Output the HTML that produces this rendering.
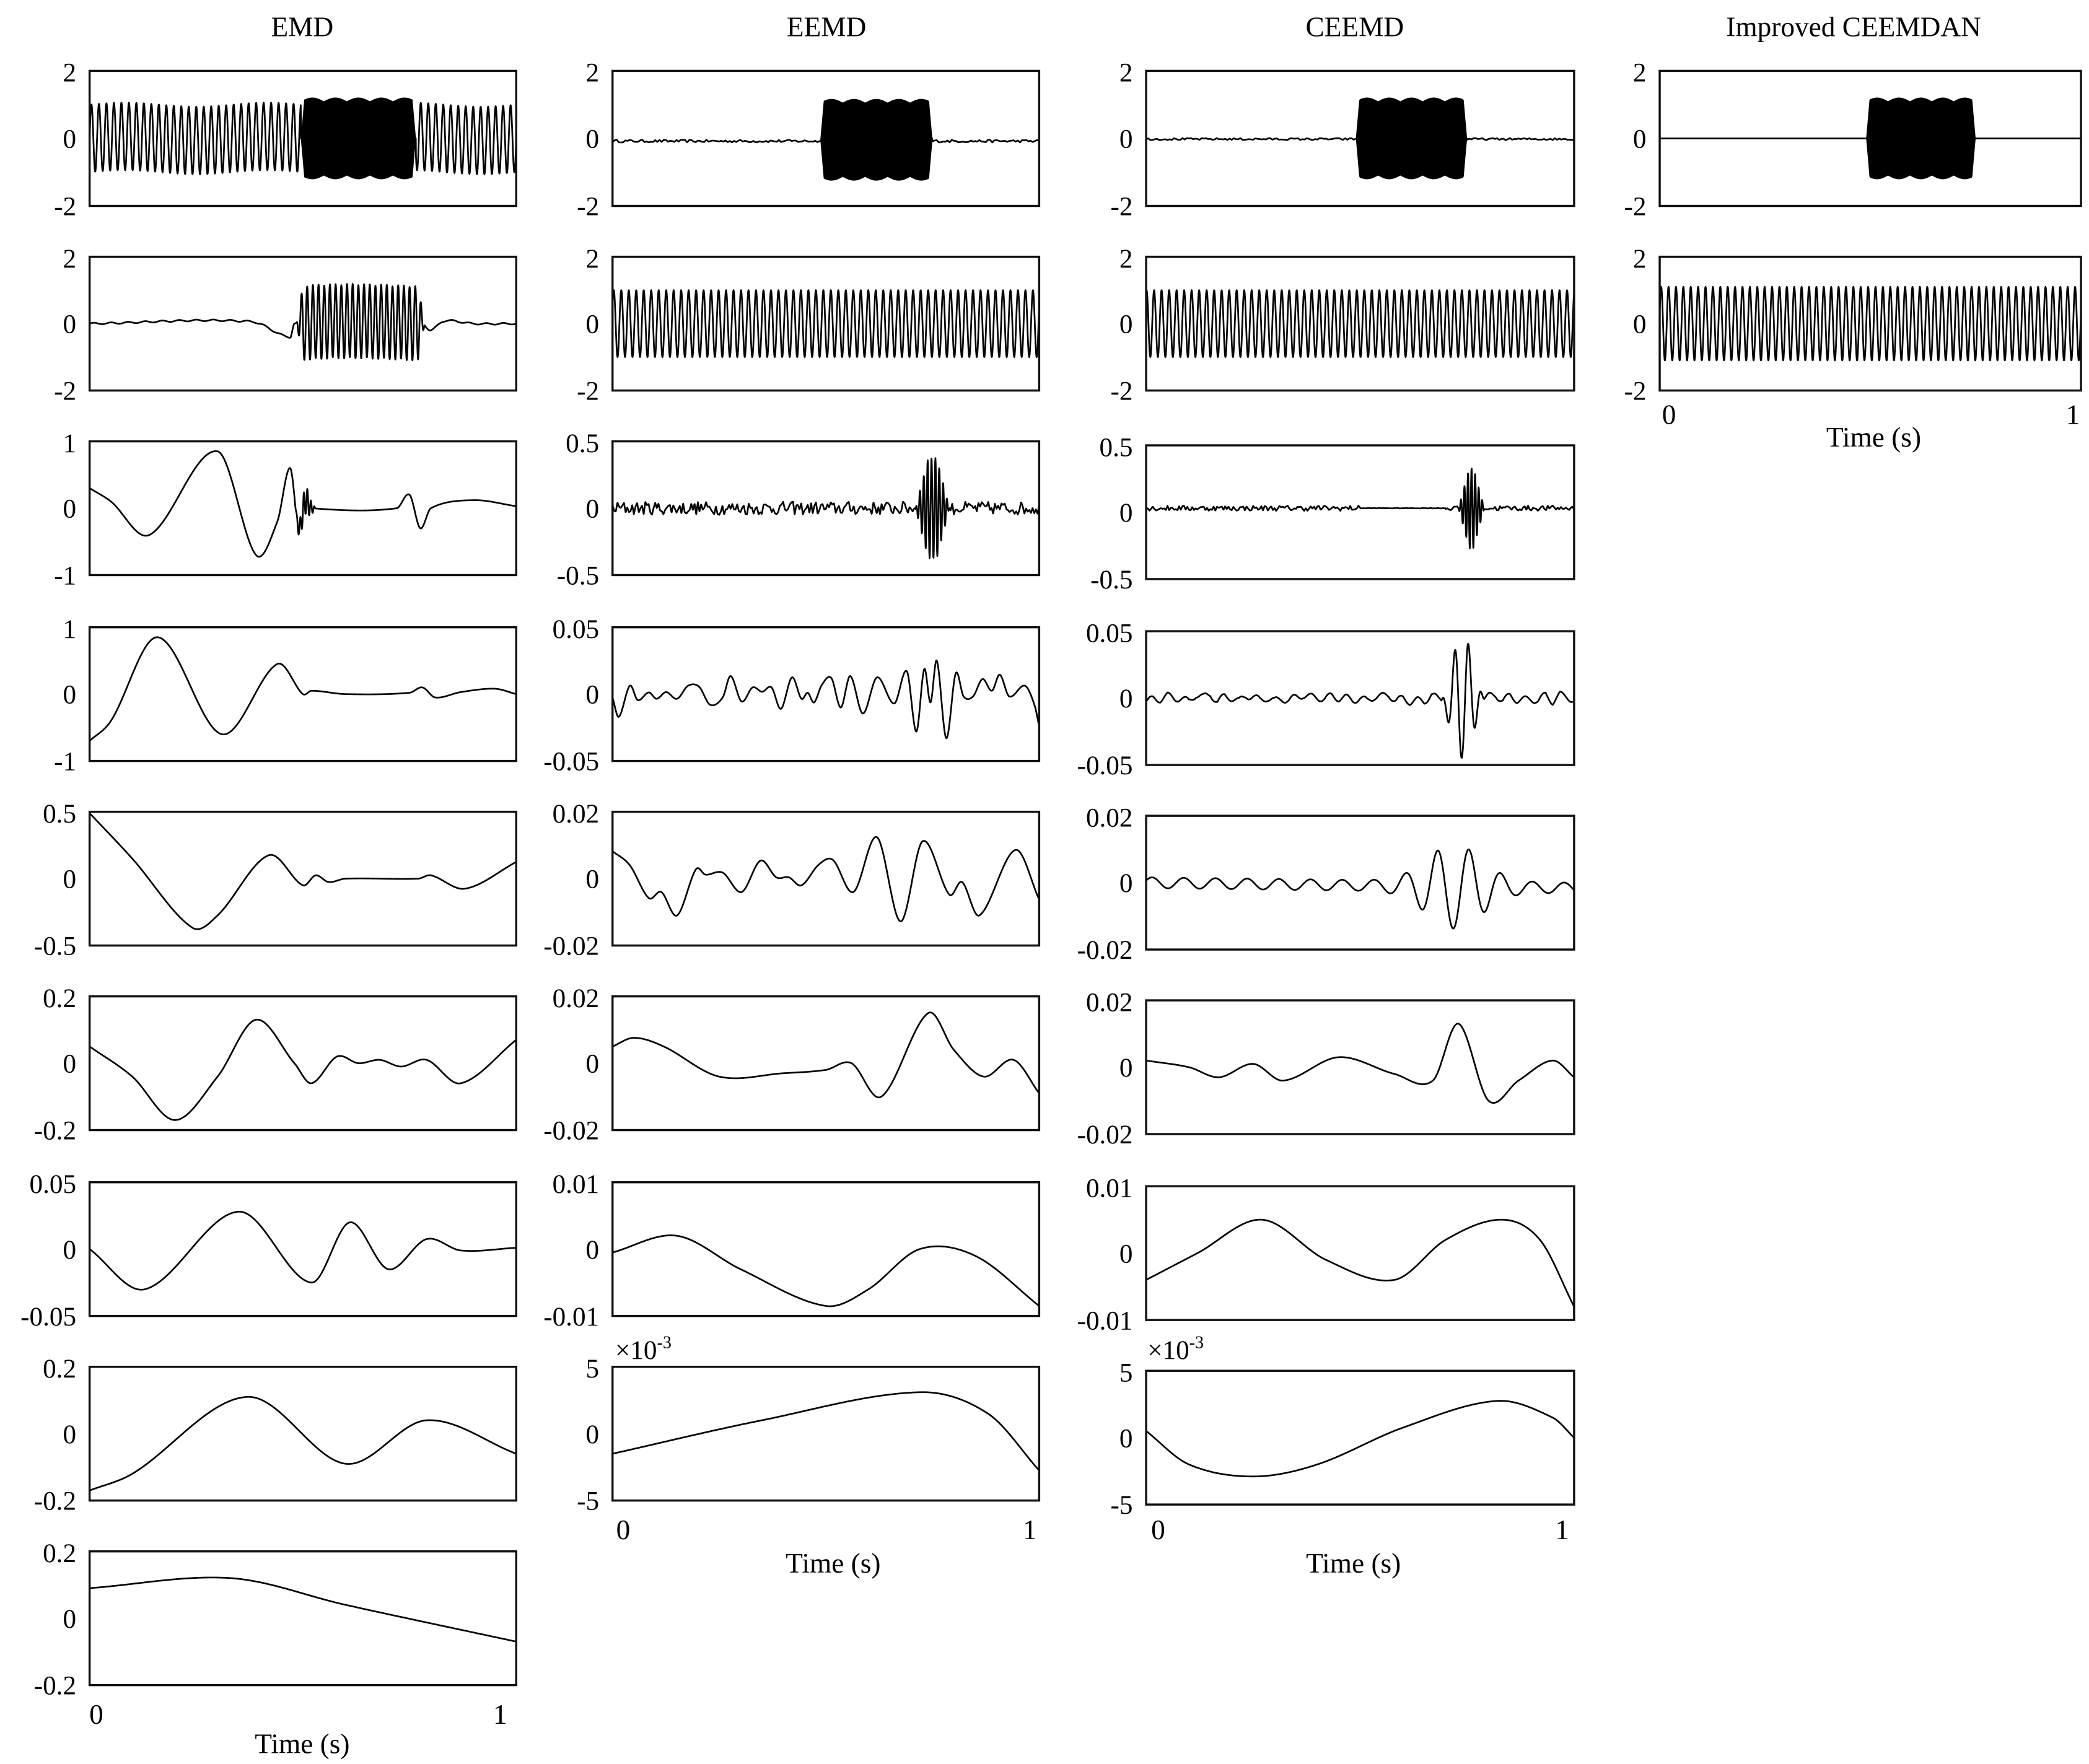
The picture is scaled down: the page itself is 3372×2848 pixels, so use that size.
<!DOCTYPE html>
<html><head><meta charset="utf-8">
<style>
html,body{margin:0;padding:0;background:#fff;}
svg{display:block;}
text{font-family:"Liberation Serif","DejaVu Serif",serif;fill:#000;}
</style></head>
<body>
<svg id="s" xmlns="http://www.w3.org/2000/svg" width="3372" height="2848" viewBox="0 0 1562 1319" preserveAspectRatio="none">
<rect width="1562" height="1319" fill="#fff"/>
<g font-size="21" text-anchor="middle">
<text x="226" y="27">EMD</text>
<text x="618" y="27">EEMD</text>
<text x="1013" y="27">CEEMD</text>
<text x="1386" y="27">Improved CEEMDAN</text>
<text x="72" y="1289">0</text><text x="374" y="1289">1</text><text x="226" y="1311">Time (s)</text>
<text x="466" y="1151">0</text><text x="770" y="1151">1</text><text x="623" y="1176">Time (s)</text>
<text x="866" y="1151">0</text><text x="1168" y="1151">1</text><text x="1012" y="1176">Time (s)</text>
<text x="1248" y="317">0</text><text x="1550" y="317">1</text><text x="1401" y="334">Time (s)</text>
</g>
<g font-size="20">
<text x="460" y="1016">×10<tspan font-size="13" dy="-8">-3</tspan></text>
<text x="858" y="1016">×10<tspan font-size="13" dy="-8">-3</tspan></text>
</g>
<g id="plots"></g>
</svg>
<script>
(function(){
var NS="http://www.w3.org/2000/svg";
var G=document.getElementById("plots");
var seed=12345;function rnd(){seed=(seed*16807)%2147483647;return seed/2147483647;}
function kp(p){return function(t){
 if(t<=p[0][0])return p[0][1]; var n=p.length;
 if(t>=p[n-1][0])return p[n-1][1];
 var i=0;while(i<n-2&&t>p[i+1][0])i++;
 var p0=p[Math.max(0,i-1)],p1=p[i],p2=p[i+1],p3=p[Math.min(n-1,i+2)];
 var u=(t-p1[0])/(p2[0]-p1[0]);
 var m1=(p2[1]-p0[1])/(p2[0]-p0[0]||1)*(p2[0]-p1[0]);
 var m2=(p3[1]-p1[1])/(p3[0]-p1[0]||1)*(p2[0]-p1[0]);
 if(i==0)m1=(p2[1]-p1[1]);if(i+2>=n)m2=(p2[1]-p1[1]);
 var u2=u*u,u3=u2*u;
 return (2*u3-3*u2+1)*p1[1]+(u3-2*u2+u)*m1+(-2*u3+3*u2)*p2[1]+(u3-u2)*m2;};}
function noise(n,amp){var a=[];for(var i=0;i<=n;i++)a.push((rnd()*2-1)*amp);
 return function(t){var x=t*n,i=Math.floor(x),f=x-i;if(i>=n)return a[n];return a[i]*(1-f)+a[i+1]*f;};}
function env(t,a,b,r){if(t<a||t>b)return 0;var e=1;if(t<a+r)e=(t-a)/r;if(t>b-r)e=(b-t)/r;return e;}
function el(tag,at){var e=document.createElementNS(NS,tag);for(var k in at)e.setAttribute(k,at[k]);G.appendChild(e);return e;}
var cols=[[67,386],[458,777],[857,1177],[1241,1556]];
var rows=[[53,154],[192,292],[330,430],[469,569],[607,707],[745,845],[884,984],[1022,1122],[1160,1260]];
function panel(c,r,labels,f,burst,N){
 var x0=cols[c][0],x1=cols[c][1],y0=rows[r][0],y1=rows[r][1];
 if(c==2&&r>=2){y0+=3;y1+=3;}
 var yc=(y0+y1)/2,h=(y1-y0)/2;
 if(burst){var b=burst,top="",bot="";var M=200;
  for(var i=0;i<=M;i++){var t=b[0]+(b[1]-b[0])*i/M;var s=b[2]*(1+0.1*Math.abs(Math.sin(Math.PI*5*(t-b[0])/(b[1]-b[0]))))*env(t,b[0],b[1],0.008);
   var x=x0+t*(x1-x0);top+=(i?"L":"M")+x.toFixed(2)+","+(yc-(b[3]+s)*h).toFixed(2);bot="L"+x.toFixed(2)+","+(yc-(b[3]-s)*h).toFixed(2)+bot;}
  el("path",{d:top+bot+"Z",fill:"#000"});}
 N=N||600;var d="";
 for(var i=0;i<=N;i++){var t=i/N;var v=f(t);v=Math.max(-0.98,Math.min(0.98,v));
  d+=(i?"L":"M")+(x0+t*(x1-x0)).toFixed(2)+","+(yc-v*h).toFixed(2);}
 el("path",{d:d,fill:"none",stroke:"#000","stroke-width":"1.25","stroke-linejoin":"round"});
 el("rect",{x:x0,y:y0,width:x1-x0,height:y1-y0,fill:"none",stroke:"#111","stroke-width":"1.6"});
 if(labels){var lx=x0-10;
  var ts=[[labels[0],y0+8],[labels[1],yc+7],[labels[2],y1+7]];
  ts.forEach(function(q){var e=el("text",{x:lx,y:q[1],"font-size":"20","text-anchor":"end"});e.textContent=q[0];});}
}
var L2=["2","0","-2"];
function dense(a,fq,ph){return function(t){return a*Math.sin(2*Math.PI*fq*t+ph);};}
// Column 1 EMD
panel(0,0,L2,function(t){if(t>0.495&&t<0.765)return 0;return 0.5*Math.sin(2*Math.PI*57*t)+0.03*Math.sin(2*Math.PI*3*t);},[0.495,0.765,0.55,0],2400);
var b2=kp([[0,0],[0.38,0.03],[0.47,-0.2],[0.48,0],[0.78,0],[0.8,-0.1],[0.83,0.04],[0.9,0],[1,0]]);
panel(0,1,L2,function(t){var w=0.012*Math.sin(2*Math.PI*25*t);return b2(t)+w+0.55*env(t,0.485,0.785,0.015)*Math.sin(2*Math.PI*75*t);},null,2400);
var e3=kp([[0,0.3],[0.05,0.1],[0.14,-0.4],[0.3,0.85],[0.39,-0.7],[0.44,-0.2],[0.47,0.6],[0.49,-0.3],[0.505,0.1],[0.52,0],[0.72,0],[0.75,0.2],[0.775,-0.3],[0.8,0],[0.9,0.12],[1,0.03]]);
panel(0,2,["1","0","-1"],function(t){return e3(t)+0.2*env(t,0.48,0.53,0.02)*Math.sin(2*Math.PI*120*t);},null,1200);
panel(0,3,["1","0","-1"],kp([[0,-0.7],[0.05,-0.4],[0.16,0.85],[0.31,-0.6],[0.44,0.45],[0.5,0],[0.52,0.05],[0.6,0],[0.75,0.02],[0.78,0.1],[0.81,-0.05],[0.87,0.03],[0.95,0.08],[1,0]]));
panel(0,4,["0.5","0","-0.5"],kp([[0,0.98],[0.1,0.3],[0.24,-0.73],[0.3,-0.55],[0.42,0.35],[0.5,-0.1],[0.53,0.05],[0.56,-0.05],[0.6,0],[0.77,0],[0.8,0.05],[0.88,-0.15],[1,0.25]]));
panel(0,5,["0.2","0","-0.2"],kp([[0,0.25],[0.1,-0.2],[0.2,-0.85],[0.3,-0.2],[0.39,0.65],[0.48,0],[0.52,-0.3],[0.58,0.1],[0.63,0],[0.68,0.05],[0.73,-0.05],[0.79,0.05],[0.87,-0.3],[1,0.35]]));
panel(0,6,["0.05","0","-0.05"],kp([[0,0],[0.13,-0.6],[0.35,0.56],[0.52,-0.5],[0.61,0.4],[0.7,-0.3],[0.79,0.15],[0.87,-0.02],[1,0.02]]));
panel(0,7,["0.2","0","-0.2"],kp([[0,-0.85],[0.1,-0.6],[0.37,0.55],[0.6,-0.45],[0.79,0.2],[1,-0.3]]));
panel(0,8,["0.2","0","-0.2"],kp([[0,0.45],[0.33,0.6],[0.6,0.2],[1,-0.35]]));
// Column 2 EEMD
var n1=noise(200,0.02);
panel(1,0,L2,function(t){if(t>0.49&&t<0.75)return 0;return -0.04+n1(t);},[0.487,0.75,0.55,-0.02],1200);
panel(1,1,L2,dense(0.5,57,0.5),null,2400);
var n3=noise(260,0.1);
panel(1,2,["0.5","0","-0.5"],function(t){return n3(t)*(1-env(t,0.7,0.8,0.02))+0.75*env(t,0.71,0.79,0.03)*Math.sin(2*Math.PI*110*t);},null,1600);
var E4=[[45,-0.05],[65,-0.34],[100,0.125],[125,-0.09],[160,0.025],[185,-0.07],[215,0.03],[250,-0.07],[285,0.125],[320,0.11],[355,-0.16],[395,-0.05],[420,0.27],[455,-0.11],[490,0.1],[520,0.035],[550,0.1],[580,-0.22],[615,0.25],[645,-0.07],[665,0.02],[685,-0.125],[710,0.14],[740,0.24],[770,-0.2],[800,0.27],[840,-0.29],[885,0.25],[940,-0.14],[980,0.34],[1010,-0.56],[1035,0.375],[1055,-0.125],[1075,0.5],[1105,-0.66],[1135,0.31],[1160,-0.035],[1190,-0.035],[1220,0.225],[1250,0.05],[1275,0.29],[1305,-0.035],[1355,0.125],[1385,-0.16],[1400,-0.48]].map(function(p){return[(p[0]-45)/1355,p[1]];});
panel(1,3,["0.05","0","-0.05"],kp(E4),null,900);
var E5=[[45,0.41],[100,0.2],[160,-0.29],[200,-0.2],[250,-0.55],[310,0.14],[340,0.06],[395,0.09],[455,-0.2],[515,0.27],[565,0.02],[605,0.02],[645,-0.1],[700,0.21],[745,0.28],[810,-0.2],[885,0.62],[960,-0.64],[1030,0.56],[1115,-0.24],[1155,-0.05],[1210,-0.55],[1325,0.43],[1400,-0.31]].map(function(p){return[(p[0]-45)/1355,p[1]];});
panel(1,4,["0.02","0","-0.02"],kp(E5));
panel(1,5,["0.02","0","-0.02"],kp([[0,0.25],[0.05,0.38],[0.12,0.25],[0.25,-0.2],[0.4,-0.15],[0.5,-0.1],[0.56,0],[0.63,-0.5],[0.74,0.75],[0.8,0.2],[0.87,-0.2],[0.94,0.05],[1,-0.45]]));
panel(1,6,["0.01","0","-0.01"],kp([[0,-0.05],[0.15,0.2],[0.3,-0.3],[0.5,-0.85],[0.6,-0.6],[0.72,0],[0.85,-0.1],[1,-0.85]]));
panel(1,7,["5","0","-5"],kp([[0,-0.3],[0.35,0.2],[0.72,0.62],[0.88,0.3],[1,-0.55]]));
// Column 3 CEEMD
var m1=noise(200,0.015);
panel(2,0,L2,function(t){if(t>0.49&&t<0.75)return 0;return -0.01+m1(t);},[0.49,0.75,0.55,0],1200);
panel(2,1,L2,dense(0.5,57,1.2),null,2400);
var m3=noise(260,0.04);
panel(2,2,["0.5","0","-0.5"],function(t){var q=(t>0.5&&t<0.7)?0.1:1;return 0.06+m3(t)*q*(1-env(t,0.72,0.8,0.02))+0.6*env(t,0.73,0.79,0.025)*Math.sin(2*Math.PI*120*t);},null,1600);
var m4=noise(60,0.06);
panel(2,3,["0.05","0","-0.05"],function(t){return 0.05*Math.sin(2*Math.PI*24*t)+m4(t)*(1-env(t,0.68,0.8,0.03))+0.85*env(t,0.69,0.79,0.04)*Math.sin(2*Math.PI*32*t+1);},null,900);
panel(2,4,["0.02","0","-0.02"],function(t){var a=0.08+0.55*Math.exp(-Math.pow((t-0.72)/0.09,2));return a*Math.sin(2*Math.PI*13.5*t+0.4)-0.08*t;},null,900);
panel(2,5,["0.02","0","-0.02"],kp([[0,0.1],[0.1,0],[0.17,-0.15],[0.25,0.05],[0.32,-0.2],[0.45,0.15],[0.58,-0.1],[0.67,-0.2],[0.73,0.65],[0.8,-0.5],[0.87,-0.2],[0.95,0.1],[1,-0.15]]));
panel(2,6,["0.01","0","-0.01"],kp([[0,-0.4],[0.12,0],[0.27,0.5],[0.42,-0.1],[0.58,-0.4],[0.7,0.2],[0.83,0.5],[0.92,0.2],[1,-0.8]]));
panel(2,7,["5","0","-5"],kp([[0,0.1],[0.1,-0.4],[0.25,-0.58],[0.4,-0.4],[0.6,0.15],[0.82,0.55],[0.95,0.3],[1,0]]));
// Column 4
panel(3,0,L2,function(t){return 0;},[0.49,0.75,0.55,0],300);
panel(3,1,L2,dense(0.55,57,0.3),null,2400);
})();
</script>
</body></html>
